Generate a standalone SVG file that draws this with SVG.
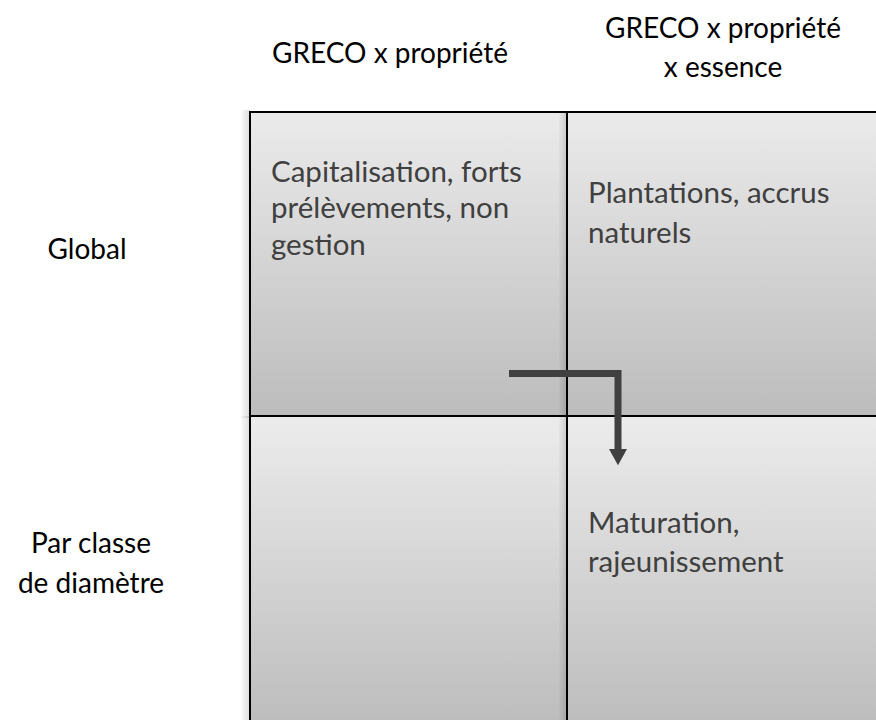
<svg xmlns="http://www.w3.org/2000/svg" width="876" height="720" viewBox="0 0 876 720">
  <style>
    .cell { stroke: #000000; stroke-width: 2; }
    .hdr { font-family: Lato, "Open Sans", sans-serif; font-size: 28px; fill: #000000; text-anchor: middle; }
    .ctext { font-family: Lato, "Open Sans", sans-serif; font-size: 29.5px; fill: #404040; }
    .conn { fill: none; stroke: #404040; stroke-width: 7; stroke-linejoin: miter; stroke-linecap: butt; }
  </style>
  <defs>
    <linearGradient id="gTop" x1="0" y1="112" x2="0" y2="416" gradientUnits="userSpaceOnUse">
      <stop offset="0" stop-color="#ebebeb"/>
      <stop offset="1" stop-color="#bcbcbc"/>
    </linearGradient>
    <linearGradient id="gBot" x1="0" y1="416" x2="0" y2="722" gradientUnits="userSpaceOnUse">
      <stop offset="0" stop-color="#ececec"/>
      <stop offset="1" stop-color="#bdbdbd"/>
    </linearGradient>
    <linearGradient id="gShadow" x1="0" y1="0" x2="1" y2="0">
      <stop offset="0" stop-color="#000000" stop-opacity="0.02"/>
      <stop offset="1" stop-color="#000000" stop-opacity="0.14"/>
    </linearGradient>
    <marker id="arrow" markerUnits="userSpaceOnUse" markerWidth="20" markerHeight="18" viewBox="0 0 18 20" refX="0" refY="10" orient="auto">
      <path d="M0,0 L18,10 L0,20 Z" fill="#404040"/>
    </marker>
  </defs>

  <!-- column and row headers -->
  <g id="header-col1">
    <text class="hdr" x="390" y="63">GRECO x propriété</text>
  </g>
  <g id="header-col2">
    <text class="hdr" x="723" y="38">GRECO x propriété</text>
    <text class="hdr" x="723" y="77">x essence</text>
  </g>
  <g id="header-row1">
    <text class="hdr" x="87" y="259">Global</text>
  </g>
  <g id="header-row2">
    <text class="hdr" x="91" y="553">Par classe</text>
    <text class="hdr" x="91" y="593">de diamètre</text>
  </g>

  <!-- left column cells -->
  <g id="cell-top-left">
    <rect x="241" y="110" width="9" height="308" fill="url(#gShadow)"/>
    <rect class="cell" x="250" y="112" width="317" height="304" fill="url(#gTop)"/>
    <text class="ctext" x="271" y="182">Capitalisation, forts</text>
    <text class="ctext" x="271" y="218">prélèvements, non</text>
    <text class="ctext" x="271" y="255">gestion</text>
  </g>
  <g id="cell-bottom-left">
    <rect x="241" y="416" width="9" height="306" fill="url(#gShadow)"/>
    <rect class="cell" x="250" y="416" width="317" height="306" fill="url(#gBot)"/>
  </g>

  <!-- right column cells -->
  <g id="cell-top-right">
    <rect x="559" y="113" width="8" height="303" fill="url(#gShadow)"/>
    <rect class="cell" x="567" y="112" width="312" height="304" fill="url(#gTop)"/>
    <text class="ctext" x="588" y="203">Plantations, accrus</text>
    <text class="ctext" x="588" y="243">naturels</text>
  </g>
  <g id="cell-bottom-right">
    <rect x="559" y="417" width="8" height="305" fill="url(#gShadow)"/>
    <rect class="cell" x="567" y="416" width="312" height="306" fill="url(#gBot)"/>
    <text class="ctext" x="588" y="533">Maturation,</text>
    <text class="ctext" x="588" y="572">rajeunissement</text>
  </g>

  <!-- connectors -->
  <g id="connectors">
    <polyline class="conn" points="509,373.5 618,373.5 618,449" marker-end="url(#arrow)"/>
  </g>
</svg>
